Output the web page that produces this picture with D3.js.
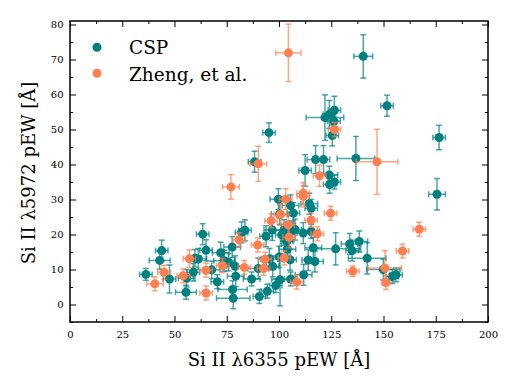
<!DOCTYPE html>
<html><head><meta charset="utf-8">
<script src="https://cdn.jsdelivr.net/npm/d3@7"></script>
<style>body{margin:0;background:#fff}svg{display:block}text{font-family:"DejaVu Serif",serif}</style>
</head><body><svg id="c" width="520" height="390"></svg>
<script>
// CSP: x (Si II 6355 pEW), y (Si II 5972 pEW), errors
const cspX    = [36.3,42.9,43.9,47.6,55.5,55.8,59.0,59.8,61.4,63.5,65.1,67.8,70.5,72.1,73.8,77.8,78.1,77.6,79.3,82.1,83.7,86.9,90.6,93.8,94.4,90.1,95.4,97.0,96.8,99.7,100.5,98.4,100.1,102.4,95.2,88.3,112.5,117.5,121.3,124.1,124.2,126.5,122.0,124.1,126.5,126.3,125.5,140.3,151.7,176.6,136.8,175.6,105.5,114.5,115.4,100.3,106.9,106.1,104.0,103.7,101.3,107.7,111.6,115.4,117.2,114.0,116.4,105.3,127.1,105.6,111.8,133.8,138.4,135.0,142.2,149.9,154.2,156.0,75.8,79.0];
const cspY    = [8.6,12.6,15.4,7.3,3.5,7.5,9.2,13.2,13.0,20.1,15.5,9.9,6.5,14.8,12.5,4.3,1.8,16.4,8.1,20.6,21.2,7.3,2.3,19.5,3.8,10.3,13.0,10.9,21.3,30.1,7.1,5.4,13.6,21.2,49.1,40.8,38.3,41.4,41.4,37.0,34.3,35.0,53.4,54.3,55.5,52.4,48.3,70.9,56.8,47.7,41.7,31.5,28.3,28.8,27.5,25.8,26.1,20.9,15.8,18.0,19.9,21.4,20.4,20.9,12.3,12.7,16.2,12.8,15.9,7.3,8.5,17.3,18.0,15.4,13.2,10.0,8.0,8.5,12.1,10.9];
const cspXErr = [3,5,3,3,5,4,3,3,4,3,3,4,3,4,5,7,8,4,4,3,3,4,3,3,3,5,4,3,4,4,4,3,4,5,3,3,3,4,3,4,3,3,9,3,3,3,3,4.5,3,3,9,4,4,4,3,4,3,3,4,3,3,3,3,4,4,3,4,3,12,3,4,4,4,3,9,8,3,3,3,4];
const cspYErr = [1.7,2.5,3,4,2,2.5,2.5,2.5,3,3,3,2.5,2,3,3,2.5,3,3,3,3,3,2,2,3,2,3,3,3,3,3,7.5,2,3,3,2.8,3,4.5,4,4,2.5,2.5,2,6.5,4,4,3,3,6.2,3,3.5,6.3,4.5,3,3,2.5,3,3,3,3,3,3,3,3,2,3,3,3,3,4.6,2,3,3,3,3,4.5,3,2,2,2.5,3];
// Zheng, et al.
const zhengX    = [104.5,90.1,77.0,126.6,146.9,119.4,103.2,111.6,111.6,124.7,100.7,96.2,104.4,118.3,115.3,104.8,89.8,80.9,93.3,92.6,102.5,108.5,83.4,73.0,65.1,65.1,57.1,54.2,45.0,40.6,135.3,150.7,151.2,159.1,167.1];
const zhengY    = [71.9,40.2,33.6,50.0,40.8,36.8,30.1,31.8,30.9,26.1,25.7,23.9,22.8,20.2,24.1,19.2,17.0,18.5,12.9,10.3,13.3,6.4,10.6,11.1,9.8,3.3,13.1,8.2,9.2,5.9,9.5,10.4,6.3,15.3,21.5];
const zhengXErr = [6,4,4,3,10,3,3,3,3,3,3,3,3,3,3,3,3,3,3,3,3,3,3,3,3,3,3,3,3,4,3,8,2,3,3];
const zhengYErr = [8.2,5,3.5,2,9.3,3,3,3,3,2,3,2,3,2,2,3,2,2,2,2,2,2,2,2,2,2,2.5,2,2,2,1.5,5,2,2,2];
const xTicks = [0,25,50,75,100,125,150,175,200];
const yTicks = [0,10,20,30,40,50,60,70,80];
const seriesNames = ["CSP","Zheng, et al."];
const colors = ["#008080","#FF7F50"];

const svg = d3.select("#c");
const L=70,R=488,T=21,B=322;
const x = d3.scaleLinear().domain([0,200]).range([L,R]);
const y = d3.scaleLinear().domain([-5,81]).range([B,T]);

function series(xs,ys,xe,ye,color){
  const g = svg.append("g");
  const data = xs.map((v,i)=>({x:v,y:ys[i],xe:xe[i],ye:ye[i]}));
  const eb = g.append("g").attr("stroke",color).attr("stroke-opacity",0.7).attr("stroke-width",1.5).attr("fill","none");
  data.forEach(d=>{
    const cx=x(d.x), cy=y(d.y), x0=x(d.x-d.xe), x1=x(d.x+d.xe), y0=y(d.y-d.ye), y1=y(d.y+d.ye);
    eb.append("line").attr("x1",x0).attr("x2",x1).attr("y1",cy).attr("y2",cy);
    eb.append("line").attr("x1",cx).attr("x2",cx).attr("y1",y0).attr("y2",y1);
    [x0,x1].forEach(xx=>eb.append("line").attr("x1",xx).attr("x2",xx).attr("y1",cy-3).attr("y2",cy+3));
    [y0,y1].forEach(yy=>eb.append("line").attr("x1",cx-3).attr("x2",cx+3).attr("y1",yy).attr("y2",yy));
  });
  g.selectAll("circle").data(data).join("circle").attr("cx",d=>x(d.x)).attr("cy",d=>y(d.y)).attr("r",4.5).attr("fill",color);
}
series(cspX,cspY,cspXErr,cspYErr,colors[0]);
series(zhengX,zhengY,zhengXErr,zhengYErr,colors[1]);

// axes (inward ticks on all sides)
const xMinor = d3.range(0,201,12.5).filter(v=>!xTicks.includes(v));
const yMinor = d3.range(-5,81,5).filter(v=>!yTicks.includes(v));
function style(g){ g.select(".domain").remove(); g.selectAll("line").attr("stroke","#000").attr("stroke-width",1); g.selectAll("text").attr("font-family","DejaVu Serif").attr("font-size",10).attr("fill","#000"); }
svg.append("g").attr("transform",`translate(0,${B})`).call(d3.axisBottom(x).tickValues(xTicks).tickSize(-6).tickPadding(9)).call(style);
svg.append("g").attr("transform",`translate(0,${B})`).call(d3.axisBottom(x).tickValues(xMinor).tickSize(-3).tickFormat("")).call(style);
svg.append("g").attr("transform",`translate(0,${T})`).call(d3.axisTop(x).tickValues(xTicks).tickSize(-6).tickFormat("")).call(style);
svg.append("g").attr("transform",`translate(0,${T})`).call(d3.axisTop(x).tickValues(xMinor).tickSize(-3).tickFormat("")).call(style);
svg.append("g").attr("transform",`translate(${L},0)`).call(d3.axisLeft(y).tickValues(yTicks).tickSize(-6).tickPadding(6.5)).call(style);
svg.append("g").attr("transform",`translate(${L},0)`).call(d3.axisLeft(y).tickValues(yMinor).tickSize(-3).tickFormat("")).call(style);
svg.append("g").attr("transform",`translate(${R},0)`).call(d3.axisRight(y).tickValues(yTicks).tickSize(-6).tickFormat("")).call(style);
svg.append("g").attr("transform",`translate(${R},0)`).call(d3.axisRight(y).tickValues(yMinor).tickSize(-3).tickFormat("")).call(style);
svg.append("rect").attr("x",L).attr("y",T).attr("width",R-L).attr("height",B-T).attr("fill","none").attr("stroke","#000").attr("stroke-width",1.5);

svg.append("text").attr("x",(L+R)/2).attr("y",365.5).attr("text-anchor","middle").attr("font-size",18).text("Si II λ6355 pEW [Å]");
svg.append("text").attr("transform","translate(35,173) rotate(-90)").attr("text-anchor","middle").attr("font-size",18).text("Si II λ5972 pEW [Å]");

// legend
seriesNames.forEach((n,i)=>{
  svg.append("circle").attr("cx",97).attr("cy",47.3+i*26).attr("r",4.5).attr("fill",colors[i]);
  svg.append("text").attr("x",129).attr("y",54.3+i*26.4).attr("font-size",18.5).attr("fill","#000").text(n);
});
</script></body></html>
